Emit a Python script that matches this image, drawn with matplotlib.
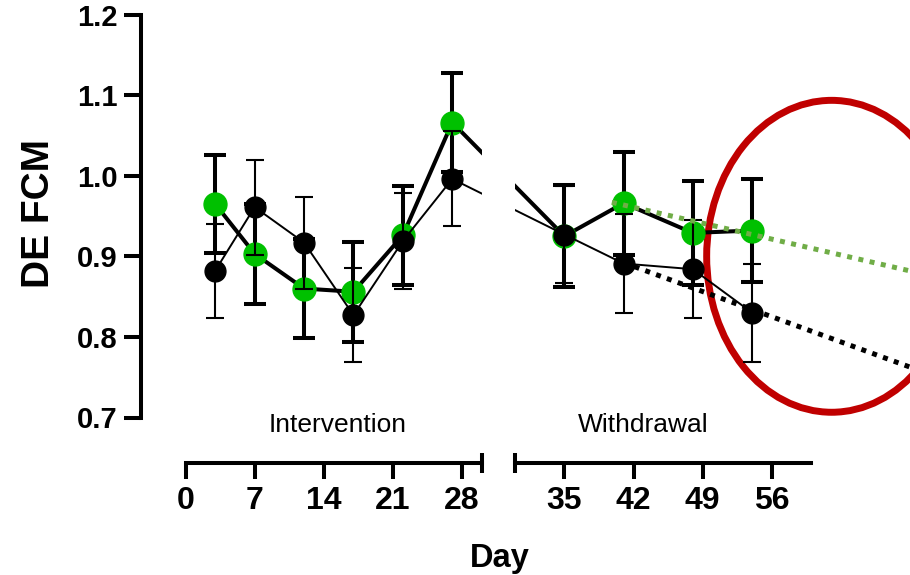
import matplotlib
matplotlib.use('Agg')
import matplotlib.pyplot as plt
import numpy as np
from matplotlib.patches import Ellipse

plt.rcParams['font.family'] = ['Liberation Sans', 'DejaVu Sans']
plt.rcParams['font.weight'] = 'bold'

GREEN = '#00C000'
TREND_GREEN = '#70AD47'
RED = '#C00000'

# days of each measurement
days_int = [3, 7, 12, 17, 22, 27]
days_wd = [35, 41, 48, 54]

# green group (thick line / thick error bars), intervention then withdrawal
green_mean = [0.965, 0.903, 0.860, 0.856, 0.926, 1.066, 0.925, 0.966, 0.929, 0.932]
green_err = [0.061, 0.062, 0.061, 0.062, 0.061, 0.061, 0.063, 0.064, 0.064, 0.064]

# black group (thin line / thin error bars)
black_mean = [0.882, 0.961, 0.917, 0.827, 0.919, 0.996, 0.927, 0.891, 0.884, 0.830]
black_err = [0.058, 0.059, 0.057, 0.058, 0.059, 0.059, 0.060, 0.061, 0.061, 0.061]

# dotted trend lines drawn over the withdrawal phase
green_trend_days = [39.8, 71]
green_trend_vals = [0.967, 0.879]
black_trend_days = [41, 71]
black_trend_vals = [0.892, 0.758]

# highlighted region (centre day, centre value, width in days, height)
ellipse_spec = (62.05, 0.900, 25.3, 0.387)

int_ticks = [0, 7, 14, 21, 28]
wd_ticks = [35, 42, 49, 56]
y_ticks = [0.7, 0.8, 0.9, 1.0, 1.1, 1.2]

# layout in pixels
W, H = 910, 575
PX_DAY = 9.88      # pixels per day
X0 = 185.5         # pixel of day 0
GAP = 3.35         # width of the axis break, in days
Y_TOP, Y_BOT = 14.5, 417.5
AX1_LEFT = 141


def u_to_px(u):
    return X0 + u * PX_DAY


fig = plt.figure(figsize=(W / 100, H / 100), dpi=100)
right1 = u_to_px(30)
left2 = u_to_px(30 + GAP)
ax_h = (Y_BOT - Y_TOP) / H
ax1 = fig.add_axes([AX1_LEFT / W, 1 - Y_BOT / H, (right1 - AX1_LEFT) / W, ax_h])
ax2 = fig.add_axes([left2 / W, 1 - Y_BOT / H, (W - left2) / W, ax_h])
for ax in (ax1, ax2):
    ax.patch.set_visible(False)

ax1.set_xlim((AX1_LEFT - X0) / PX_DAY, 30)
ax2.set_xlim(30 + GAP, (W - X0) / PX_DAY)

x_all = np.r_[days_int, np.array(days_wd) + GAP]

for ax in (ax1, ax2):
    ax.set_ylim(0.7, 1.2)
    ax.errorbar(x_all, green_mean, yerr=green_err, fmt='none', ecolor='black',
                elinewidth=2.9, capsize=8, capthick=2.9, zorder=2)
    ax.plot(x_all, green_mean, color='black', lw=2.9, marker='o', ms=16.5,
            mfc=GREEN, mec=GREEN, zorder=3)
    ax.errorbar(x_all, black_mean, yerr=black_err, fmt='none', ecolor='black',
                elinewidth=1.5, capsize=6.8, capthick=1.5, zorder=4)
    ax.plot(x_all, black_mean, color='black', lw=1.4, marker='o', ms=15,
            mfc='black', mec='black', zorder=5)
    for side in ('top', 'right'):
        ax.spines[side].set_visible(False)
    ax.spines['bottom'].set_position(('outward', 32.8))
    ax.spines['bottom'].set_linewidth(2.9)
    ax.tick_params(axis='x', direction='out', length=11.5, width=2.9,
                   labelsize=23, pad=5)
    ax.tick_params(axis='x', which='minor', direction='inout', length=14, width=2.9)

# trend lines and highlight (withdrawal side only)
ax2.plot(np.array(green_trend_days) + GAP, green_trend_vals, color=TREND_GREEN,
         lw=3.6, linestyle=(0, (1, 1.3)), dash_capstyle='butt', zorder=6)
ax2.plot(np.array(black_trend_days) + GAP, black_trend_vals, color='black',
         lw=3.6, linestyle=(0, (1, 1.3)), dash_capstyle='butt', zorder=6)
cx, cy, ew, eh = ellipse_spec
ax2.add_patch(Ellipse((cx + GAP, cy), ew, eh, fill=False, ec=RED, lw=5, zorder=1.5))

# left segment axes
ax1.spines['left'].set_linewidth(2.9)
ax1.spines['left'].set_bounds(0.7, 1.2)
ax1.spines['bottom'].set_bounds(0, 30)
ax1.set_yticks(y_ticks)
ax1.set_yticklabels([f'{v:.1f}' for v in y_ticks])
ax1.tick_params(axis='y', direction='out', length=12, width=2.9, labelsize=21, pad=5)
ax1.set_xticks(int_ticks)
ax1.set_xticklabels([str(t) for t in int_ticks])
ax1.set_xticks([30], minor=True)

# right segment axes
ax2.spines['left'].set_visible(False)
ax2.tick_params(axis='y', left=False, labelleft=False)
ax2.spines['bottom'].set_bounds(30 + GAP, 60 + GAP)
ax2.set_xticks(np.array(wd_ticks) + GAP)
ax2.set_xticklabels([str(t) for t in wd_ticks])
ax2.set_xticks([30 + GAP], minor=True)

# phase labels
ax1.text(15.4, 0.6824, 'Intervention', ha='center', va='baseline',
         fontsize=19, fontweight='normal', clip_on=False)
ax2.text(43.0 + GAP, 0.6824, 'Withdrawal', ha='center', va='baseline',
         fontsize=19, fontweight='normal', clip_on=False)

fig.text(500 / W, 1 - 566.7 / H, 'Day', ha='center', va='baseline', fontsize=23.5)
fig.text(39 / W, 1 - 214 / H, 'DE FCM', ha='center', va='center', rotation=90,
         fontsize=28)

fig.savefig('out.png', dpi=100)
